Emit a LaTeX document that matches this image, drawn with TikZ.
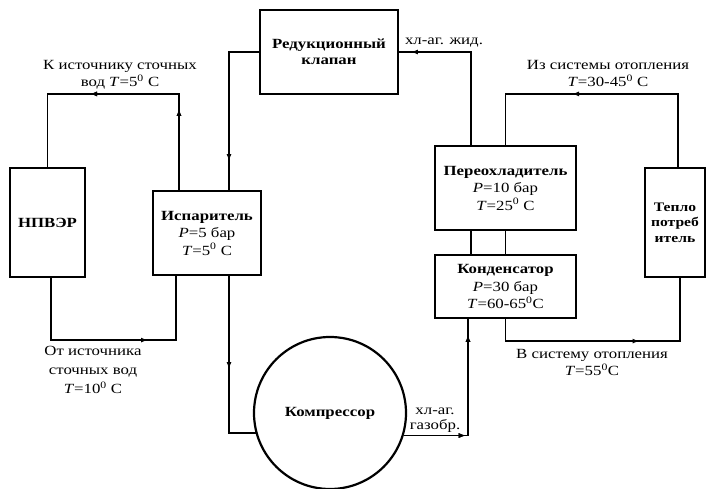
\documentclass[tikz,border=0pt]{standalone}
\usepackage{fontspec}
\setmainfont{Liberation Serif}[FakeStretch=1.2]
\usetikzlibrary{arrows.meta,decorations.markings}
\begin{document}
\begin{tikzpicture}[x=1pt,y=-1pt,
  box/.style={draw, line width=2.2pt, inner sep=0pt, align=center, font=\fontsize{14}{17.5}\selectfont},
  conn/.style={line width=1.5pt},
  arrowat/.style={postaction={decorate}, decoration={markings, mark=at position #1 with {\arrow{Latex[length=7pt,width=5pt]}}}},
  lbl/.style={align=center, inner sep=0pt, font=\fontsize{14}{17}\selectfont}]
\useasboundingbox (0,0) rectangle (707,489);
% boxes
\node[box, minimum width=138pt, minimum height=84pt] (valve) at (329,52) {\textbf{Редукционный}\\[-1pt]\textbf{клапан}};
\node[box, minimum width=75pt, minimum height=109pt] (npver) at (47.5,222.5) {\textbf{НПВЭР}};
\node[box, minimum width=108pt, minimum height=84pt] (isp) at (207,233) {\textbf{Испаритель}\\\textit{P}=5 бар\\\textit{T}=5\textsuperscript{0} C};
\node[box, minimum width=141pt, minimum height=84pt] (pereo) at (505.5,188) {\textbf{Переохладитель}\\\textit{P}=10 бар\\\textit{T}=25\textsuperscript{0} C};
\node[box, minimum width=141pt, minimum height=63pt] (kond) at (505.5,286.5) {\textbf{Конденсатор}\\\textit{P}=30 бар\\\textit{T}=60-65\textsuperscript{0}C};
\node[box, minimum width=60pt, minimum height=109pt, font=\fontsize{13}{15.5}\selectfont] (teplo) at (675,222.5) {\textbf{Тепло}\\\textbf{потреб}\\\textbf{итель}};
\node[box, circle, minimum size=152pt] (comp) at (330,413) {\textbf{Компрессор}};
% labels
\node[lbl] (l1) at (120,74.5) {К источнику сточных\\вод \textit{T}=5\textsuperscript{0} C};
\node[lbl, font=\fontsize{14}{19}\selectfont] (l2) at (93,370) {От источника\\сточных вод\\\textit{T}=10\textsuperscript{0} C};
\node[lbl] (l3) at (444,43) {хл-аг. жид.};
\node[lbl] (l4) at (608,73.5) {Из системы отопления\\\textit{T}=30-45\textsuperscript{0} C};
\node[lbl] (l5) at (592,362.5) {В систему отопления\\\textit{T}=55\textsuperscript{0}C};
\node[lbl, font=\fontsize{14}{15}\selectfont] (l6) at (435,420) {хл-аг.\\газобр.};
% connectors
\draw[conn, arrowat=139pt] (valve.west) -| ([xshift=22pt]isp.north);
\draw[conn, arrowat=81pt, arrowat=185pt] ([xshift=-28pt]isp.north) |- ([yshift=73pt]npver.north) -- (npver.north);
\draw[conn, arrowat=159pt] ([xshift=3.5pt]npver.south) |- ([xshift=-31pt,yshift=-64pt]isp.south) -- ([xshift=-31pt]isp.south);
\draw[conn, arrowat=93pt] ([xshift=22pt]isp.south) |- (comp.195);
\draw[conn, arrowat=62pt, arrowat=165pt] (comp.-17) -| ([xshift=-37.5pt]kond.south);
\draw[conn, arrowat=153pt] ([xshift=-34.5pt]pereo.north) |- (valve.east);
\draw[conn, arrowat=179pt] ([xshift=3pt]teplo.north) |- ([yshift=51pt]pereo.north) -- (pereo.north);
\draw[conn, arrowat=156pt] (kond.south) |- ([xshift=5pt,yshift=-63pt]teplo.south) -- ([xshift=5pt]teplo.south);
\draw[conn] ([xshift=-34.5pt]pereo.south) -- ([xshift=-34.5pt]kond.north);
\draw[conn] (pereo.south) -- (kond.north);
\end{tikzpicture}
\end{document}
